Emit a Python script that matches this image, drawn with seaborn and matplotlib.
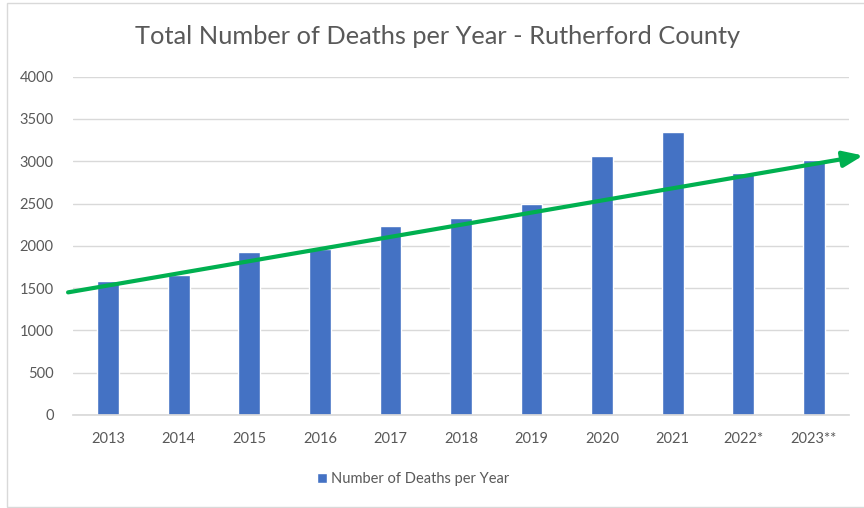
import matplotlib

matplotlib.use("Agg")

import matplotlib.pyplot as plt
import pandas as pd
import seaborn as sns
from matplotlib.patches import Rectangle

# values
YEARS = ["2013", "2014", "2015", "2016", "2017", "2018", "2019", "2020", "2021", "2022*", "2023**"]
DEATHS = [1590, 1655, 1925, 1965, 2230, 2335, 2490, 3060, 3345, 2860, 3015]
# hand-drawn trend arrow: start/end in category position and value
TREND_X = [-0.57, 10.70]
TREND_Y = [1450, 3068]

BAR_COLOR = "#4472C4"
ARROW_COLOR = "#00B050"
TEXT_COLOR = "#595959"

df = pd.DataFrame({"year": YEARS, "deaths": DEATHS})

sns.set_theme(style="white")
plt.rcParams["font.family"] = ["Lato", "DejaVu Sans"]

fig = plt.figure(figsize=(8.64, 5.08), dpi=100)
ax = fig.add_axes([73 / 864, 1 - 415 / 508, (849 - 73) / 864, (415 - 76.7) / 508])

sns.barplot(data=df, x="year", y="deaths", color=BAR_COLOR, width=0.31,
            saturation=1, ax=ax, label="Number of Deaths per Year", zorder=2)

ax.set_ylim(0, 4000)
ax.set_xlim(-0.5, 10.5)
ax.set_yticks(range(0, 4001, 500))
ax.yaxis.grid(True, color="#D9D9D9", linewidth=1)
ax.set_axisbelow(True)
for side in ["top", "right", "left"]:
    ax.spines[side].set_visible(False)
ax.spines["bottom"].set_color("#D9D9D9")
ax.set_xlabel("")
ax.set_ylabel("")
ax.tick_params(axis="both", colors=TEXT_COLOR, labelsize=10.5, length=0)
ax.tick_params(axis="x", pad=12)
ax.tick_params(axis="y", pad=14)

ax.annotate("", xy=(TREND_X[1], TREND_Y[1]), xytext=(TREND_X[0], TREND_Y[0]),
            xycoords="data", annotation_clip=False,
            arrowprops=dict(arrowstyle="-|>,head_length=1.0,head_width=0.4",
                            color=ARROW_COLOR, lw=3, shrinkA=0, shrinkB=0),
            zorder=5)

fig.text(438 / 864, 1 - 37 / 508, "Total Number of Deaths per Year - Rutherford County",
         ha="center", va="center", fontsize=18.3, color=TEXT_COLOR, fontweight="normal")

ax.legend(loc="center", bbox_to_anchor=(413 / 864, 1 - 479 / 508),
          bbox_transform=fig.transFigure, frameon=False, fontsize=10.5,
          handlelength=0.7, handleheight=0.7, handletextpad=0.3,
          labelcolor=TEXT_COLOR)

fig.patches.append(Rectangle((7 / 864, 1 - 507 / 508), 1.0, 504 / 508,
                             transform=fig.transFigure, fill=False,
                             edgecolor="#D9D9D9", linewidth=1))

fig.savefig("out.png", dpi=100)
